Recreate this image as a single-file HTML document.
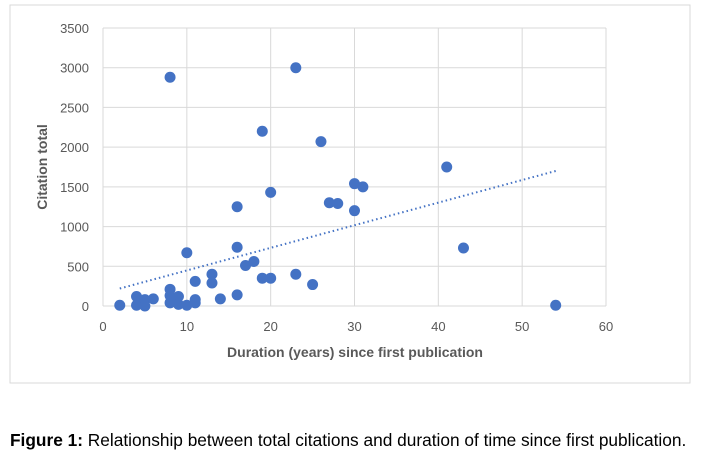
<!DOCTYPE html>
<html><head><meta charset="utf-8"><style>
body{margin:0;background:#fff;width:705px;height:457px;overflow:hidden;font-family:"Liberation Sans",sans-serif}
svg{position:absolute;left:0;top:0}
</style></head><body>
<svg width="705" height="457">
<rect x="10" y="5" width="680" height="378" fill="#fff" stroke="#d9d9d9"/>
<g id="grid"></g><g id="pts"></g>
<text x="355" y="357" text-anchor="middle" font-size="14" font-weight="bold" fill="#595959">Duration (years) since first publication</text>
<text transform="translate(47,167) rotate(-90)" text-anchor="middle" font-size="14" font-weight="bold" fill="#595959">Citation total</text>
<text x="10" y="446" font-size="17.3" fill="#000"><tspan font-weight="bold">Figure 1:</tspan> Relationship between total citations and duration of time since first publication.</text>
</svg>
<script>
const xTicks=[0,10,20,30,40,50,60];
const yTicks=[0,500,1000,1500,2000,2500,3000,3500];
const xs=[2,4,4,5,5,6,8,8,8,9,9,10,10,11,11,11,13,13,14,16,16,17,18,19,20,23,25,8,23,19,26,16,20,27,28,30,31,30,41,43,54];
const ys=[10,120,10,80,0,90,210,130,40,120,20,10,670,310,80,40,400,290,90,740,140,510,560,350,350,400,270,2880,3000,2200,2070,1250,1430,1300,1290,1540,1500,1200,1750,730,10];
const trendX=[2,54];const trendY=[220,1700];
const X=v=>103+v*(503/60), Y=v=>306-v*(278/3500);
const NS='http://www.w3.org/2000/svg';
const g=document.getElementById('grid'),p=document.getElementById('pts');
function mk(t,a,par){const e=document.createElementNS(NS,t);for(const k in a)e.setAttribute(k,a[k]);par.appendChild(e);return e;}
xTicks.forEach(t=>{const e=mk('line',{x1:X(t),x2:X(t),y1:Y(0),y2:Y(3500),stroke:'#d9d9d9'},g);

const l=mk('text',{x:X(t),y:331,'text-anchor':'middle','font-size':13,fill:'#595959'},g);l.textContent=t;
});
yTicks.forEach(t=>{const e=mk('line',{x1:X(0),x2:X(60),y1:Y(t),y2:Y(t),stroke:'#d9d9d9'},g);

const l=mk('text',{x:89,y:Y(t)+5,'text-anchor':'end','font-size':13,fill:'#595959'},g);l.textContent=t;
});
const tl=mk('line',{x1:X(trendX[0]),y1:Y(trendY[0]),x2:X(trendX[1]),y2:Y(trendY[1]),stroke:'#4472c4','stroke-width':2,'stroke-dasharray':'1.5 3'},p);

xs.forEach((x,i)=>{const c=mk('circle',{cx:X(x),cy:Y(ys[i]),r:5.5,fill:'#4472c4'},p);
});
</script>
</body></html>
